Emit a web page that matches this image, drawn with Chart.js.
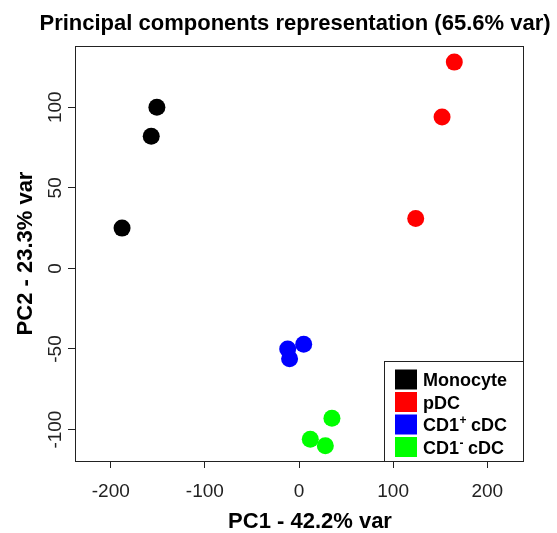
<!DOCTYPE html>
<html>
<head>
<meta charset="utf-8">
<script src="https://cdn.jsdelivr.net/npm/chart.js@4/dist/chart.umd.min.js"></script>
<style>
  html, body { margin: 0; padding: 0; background: #fff; }
  #wrap { width: 557px; height: 533px; }
</style>
</head>
<body>
<div id="wrap"><canvas id="pca" width="557" height="533"></canvas></div>
<script>
// data
var groups = ["Monocyte", "pDC", "CD1+ cDC", "CD1- cDC"];
var group_colors = ["#000000", "#ff0000", "#0000ff", "#00ff00"];

var monocyte_x = [-188, -157, -151];
var monocyte_y = [25, 82, 100];
var pdc_x = [124, 152, 165];
var pdc_y = [31, 94, 128];
var cd1pos_x = [-12, 5, -10];
var cd1pos_y = [-50, -47, -56];
var cd1neg_x = [35, 12, 28];
var cd1neg_y = [-93, -106, -110];

var x_ticks = [-200, -100, 0, 100, 200];
var y_ticks = [-100, -50, 0, 50, 100];

var main_title = "Principal components representation (65.6% var)";
var x_title = "PC1 - 42.2% var";
var y_title = "PC2 - 23.3% var";

function make_points(xs, ys){
    var pts = [];
    for (let i = 0; i < xs.length; i++){
        pts.push({x: xs[i], y: ys[i]});
    }
    return pts;
}

var all_x = [monocyte_x, pdc_x, cd1pos_x, cd1neg_x];
var all_y = [monocyte_y, pdc_y, cd1pos_y, cd1neg_y];
var datasets = [];
for (let g = 0; g < groups.length; g++){
    datasets.push({
        label: groups[g],
        data: make_points(all_x[g], all_y[g]),
        backgroundColor: group_colors[g],
        borderWidth: 0,
        pointRadius: 8.5,
        pointHoverRadius: 8.5
    });
}

// box, y tick labels, titles and legend are drawn by hand (R style)
var r_style = {
    id: "r_style",
    afterDraw: function(chart){
        var ctx = chart.ctx;
        var a = chart.chartArea;
        var ys = chart.scales.y;
        ctx.save();

        // plot frame
        ctx.strokeStyle = "#222";
        ctx.lineWidth = 1;
        ctx.strokeRect(a.left + 0.5, a.top + 0.5, a.right - a.left, a.bottom - a.top);

        // y tick labels, rotated
        ctx.fillStyle = "#222";
        ctx.font = "19px Arial, 'Liberation Sans', sans-serif";
        ctx.textAlign = "center";
        ctx.textBaseline = "alphabetic";
        for (let i = 0; i < y_ticks.length; i++){
            let py = ys.getPixelForValue(y_ticks[i]);
            ctx.save();
            ctx.translate(54, py);
            ctx.rotate(-Math.PI / 2);
            ctx.fillText(String(y_ticks[i]), 0, 6.8);
            ctx.restore();
        }

        // titles
        ctx.fillStyle = "#000";
        ctx.font = "bold 22px Arial, 'Liberation Sans', sans-serif";
        ctx.fillText(main_title, 295, 29.5);
        ctx.fillText(x_title, 310, 527.5);
        ctx.save();
        ctx.translate(24 + 7.9, (a.top + a.bottom) / 2);
        ctx.rotate(-Math.PI / 2);
        ctx.fillText(y_title, 0, 0);
        ctx.restore();

        // legend box
        var lx = 384, ly = 361;
        ctx.fillStyle = "#fff";
        ctx.fillRect(lx + 0.5, ly + 0.5, a.right - lx, a.bottom - ly);
        ctx.strokeStyle = "#222";
        ctx.strokeRect(lx + 0.5, ly + 0.5, a.right - lx, a.bottom - ly);
        var rows = [379.5, 402, 424.5, 447];
        ctx.textAlign = "left";
        for (let g = 0; g < groups.length; g++){
            let cy = rows[g];
            ctx.fillStyle = group_colors[g];
            ctx.fillRect(395, cy - 10, 22, 20);
            ctx.fillStyle = "#000";
            ctx.font = "bold 18px Arial, 'Liberation Sans', sans-serif";
            let label = groups[g];
            let sup = label.match(/^(CD1)([+-])( .*)$/);
            if (sup){
                let x0 = 423;
                ctx.fillText(sup[1], x0, cy + 6.5);
                x0 += ctx.measureText(sup[1]).width;
                ctx.font = "bold 12px Arial, 'Liberation Sans', sans-serif";
                ctx.fillText(sup[2], x0 + 0.5, cy - 0.5);
                x0 += ctx.measureText(sup[2]).width;
                ctx.font = "bold 18px Arial, 'Liberation Sans', sans-serif";
                ctx.fillText(sup[3], x0, cy + 6.5);
            }
            else{
                ctx.fillText(label, 423, cy + 6.5);
            }
        }
        ctx.restore();
    }
};

var ctx_pca = document.getElementById("pca").getContext("2d");

const config_pca = {
    type: "scatter",
    data: { datasets: datasets },
    options: {
        responsive: false,
        animation: false,
        layout: { padding: { top: 46, right: 34, left: 0, bottom: 0 } },
        plugins: {
            legend: { display: false },
            title: { display: false },
            tooltip: { enabled: false }
        },
        scales: {
            x: {
                type: "linear",
                min: -238,
                max: 238,
                afterBuildTicks: function(scale){
                    scale.ticks = x_ticks.map(function(v){ return {value: v}; });
                },
                afterFit: function(scale){ scale.height = 72; },
                grid: { drawOnChartArea: false, drawTicks: true, tickLength: 7, color: "#222", tickColor: "#222" },
                border: { display: false },
                ticks: {
                    color: "#222",
                    font: { family: "Arial, 'Liberation Sans', sans-serif", size: 19 },
                    padding: 12,
                    maxRotation: 0
                }
            },
            y: {
                type: "linear",
                min: -119.5,
                max: 138,
                afterBuildTicks: function(scale){
                    scale.ticks = y_ticks.map(function(v){ return {value: v}; });
                },
                afterFit: function(scale){ scale.width = 75; },
                grid: { drawOnChartArea: false, drawTicks: true, tickLength: 7, color: "#222", tickColor: "#222" },
                border: { display: false },
                ticks: { display: false }
            }
        }
    },
    plugins: [r_style]
};

var chart_pca = new Chart(ctx_pca, config_pca);
</script>
</body>
</html>
